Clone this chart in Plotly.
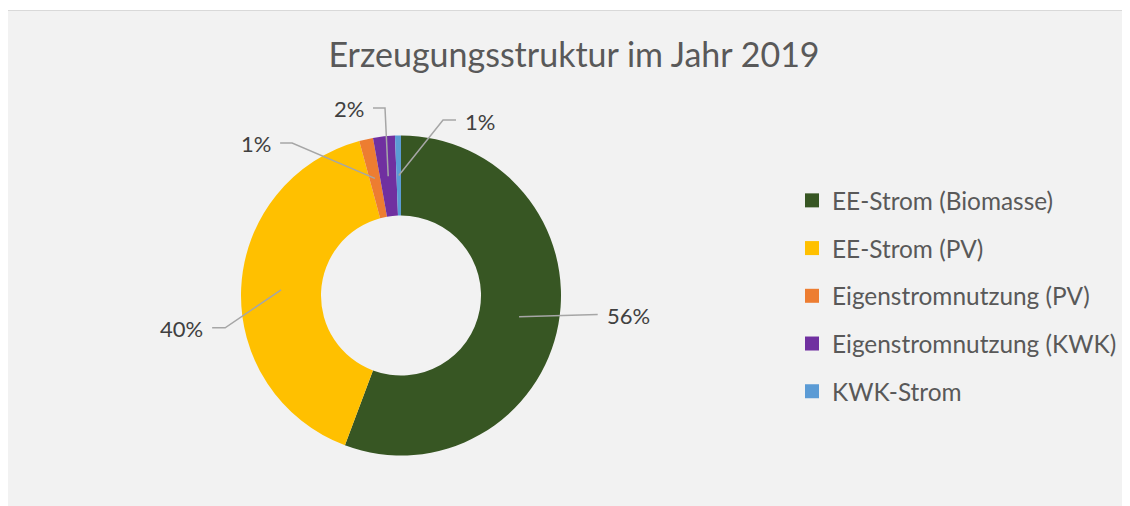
import math
import plotly.graph_objects as go

# ---- data ----
categories = ["EE-Strom (Biomasse)", "EE-Strom (PV)", "Eigenstromnutzung (PV)",
              "Eigenstromnutzung (KWK)", "KWK-Strom"]
shares = [55.7, 40.1, 1.4, 2.2, 0.6]
colors = ["#375623", "#FFC000", "#ED7D31", "#7030A0", "#5B9BD5"]
title_text = "Erzeugungsstruktur im Jahr 2019"

# ---- layout constants (page pixels) ----
OFF = 8                      # default body margin of the html page
W, H = 1130 - OFF, 506 - OFF
CX, CY, R = 401, 295.5, 160  # pie centre / outer radius
HOLE = 0.5
FONT = "Lato"
TXT = "#595959"
LABEL = "#404040"
LINE = "#A6A6A6"
# leader line: elbow offset from anchor (dx, dy) and horizontal tail length
elbows = [(78.6, -2.3, 0), (-56, 38, -13), (-82.7, -35.4, -12), (-3.2, -68.2, -12), (44.3, -55.5, 13)]


def px(x):
    return (x - OFF) / W


def py(y):
    return 1 - (y - OFF) / H


fig = go.Figure()
fig.add_trace(go.Pie(
    labels=categories, values=shares, hole=HOLE, sort=False,
    direction="clockwise", rotation=0,
    marker=dict(colors=colors, line=dict(width=0)),
    textinfo="none", hoverinfo="label+percent", showlegend=False,
    domain=dict(x=[px(CX - R), px(CX + R)], y=[py(CY + R), py(CY - R)]),
))

# legend entries
for i, (c, col) in enumerate(zip(categories, colors)):
    fig.add_trace(go.Scatter(
        x=[None], y=[None], mode="markers", name=c, legendgroup=f"g{i}",
        marker=dict(symbol="square", size=14, color=col),
    ))

# leader lines + percent labels, derived from the values
total = sum(shares)
r_mid = R * (1 + HOLE) / 2
cum = 0.0
shapes = [dict(type="rect", xref="paper", yref="paper", layer="below",
               x0=px(6.5), x1=px(1128.5), y0=py(530), y1=py(10.5),
               fillcolor="#F2F2F2", line=dict(color="#D9D9D9", width=1))]
annotations = []
for v, (dx, dy, tail) in zip(shares, elbows):
    mid = (cum + v / 2) / total * 2 * math.pi
    cum += v
    ax = CX + r_mid * math.sin(mid)
    ay = CY - r_mid * math.cos(mid)
    ex, ey = ax + dx, ay + dy
    tx = ex + tail
    shapes.append(dict(
        type="path", xref="paper", yref="paper", layer="above",
        path=f"M {px(ax)},{py(ay)} L {px(ex)},{py(ey)} L {px(tx)},{py(ey)}",
        line=dict(color=LINE, width=1.5),
    ))
    right = tx >= ax
    annotations.append(dict(
        x=px(tx + (7 if right else -7)), y=py(ey + 1), xref="paper", yref="paper",
        text=f"{round(v / total * 100)}%", showarrow=False,
        xanchor="left" if right else "right", yanchor="middle",
        font=dict(family=FONT, size=22, color=LABEL),
    ))

fig.update_layout(
    width=W, height=H,
    margin=dict(l=0, r=0, t=0, b=0),
    paper_bgcolor="white", plot_bgcolor="rgba(0,0,0,0)",
    xaxis=dict(visible=False), yaxis=dict(visible=False),
    title=dict(text=title_text, x=px(574), y=py(55), xanchor="center", yanchor="middle",
               font=dict(family=FONT, size=34, color=TXT)),
    legend=dict(x=px(792), y=py(178), xanchor="left", yanchor="top",
                font=dict(family=FONT, size=24.4, color=TXT),
                bgcolor="rgba(0,0,0,0)", tracegroupgap=13, itemsizing="trace"),
    shapes=shapes, annotations=annotations,
)

fig.write_html("out.html")
